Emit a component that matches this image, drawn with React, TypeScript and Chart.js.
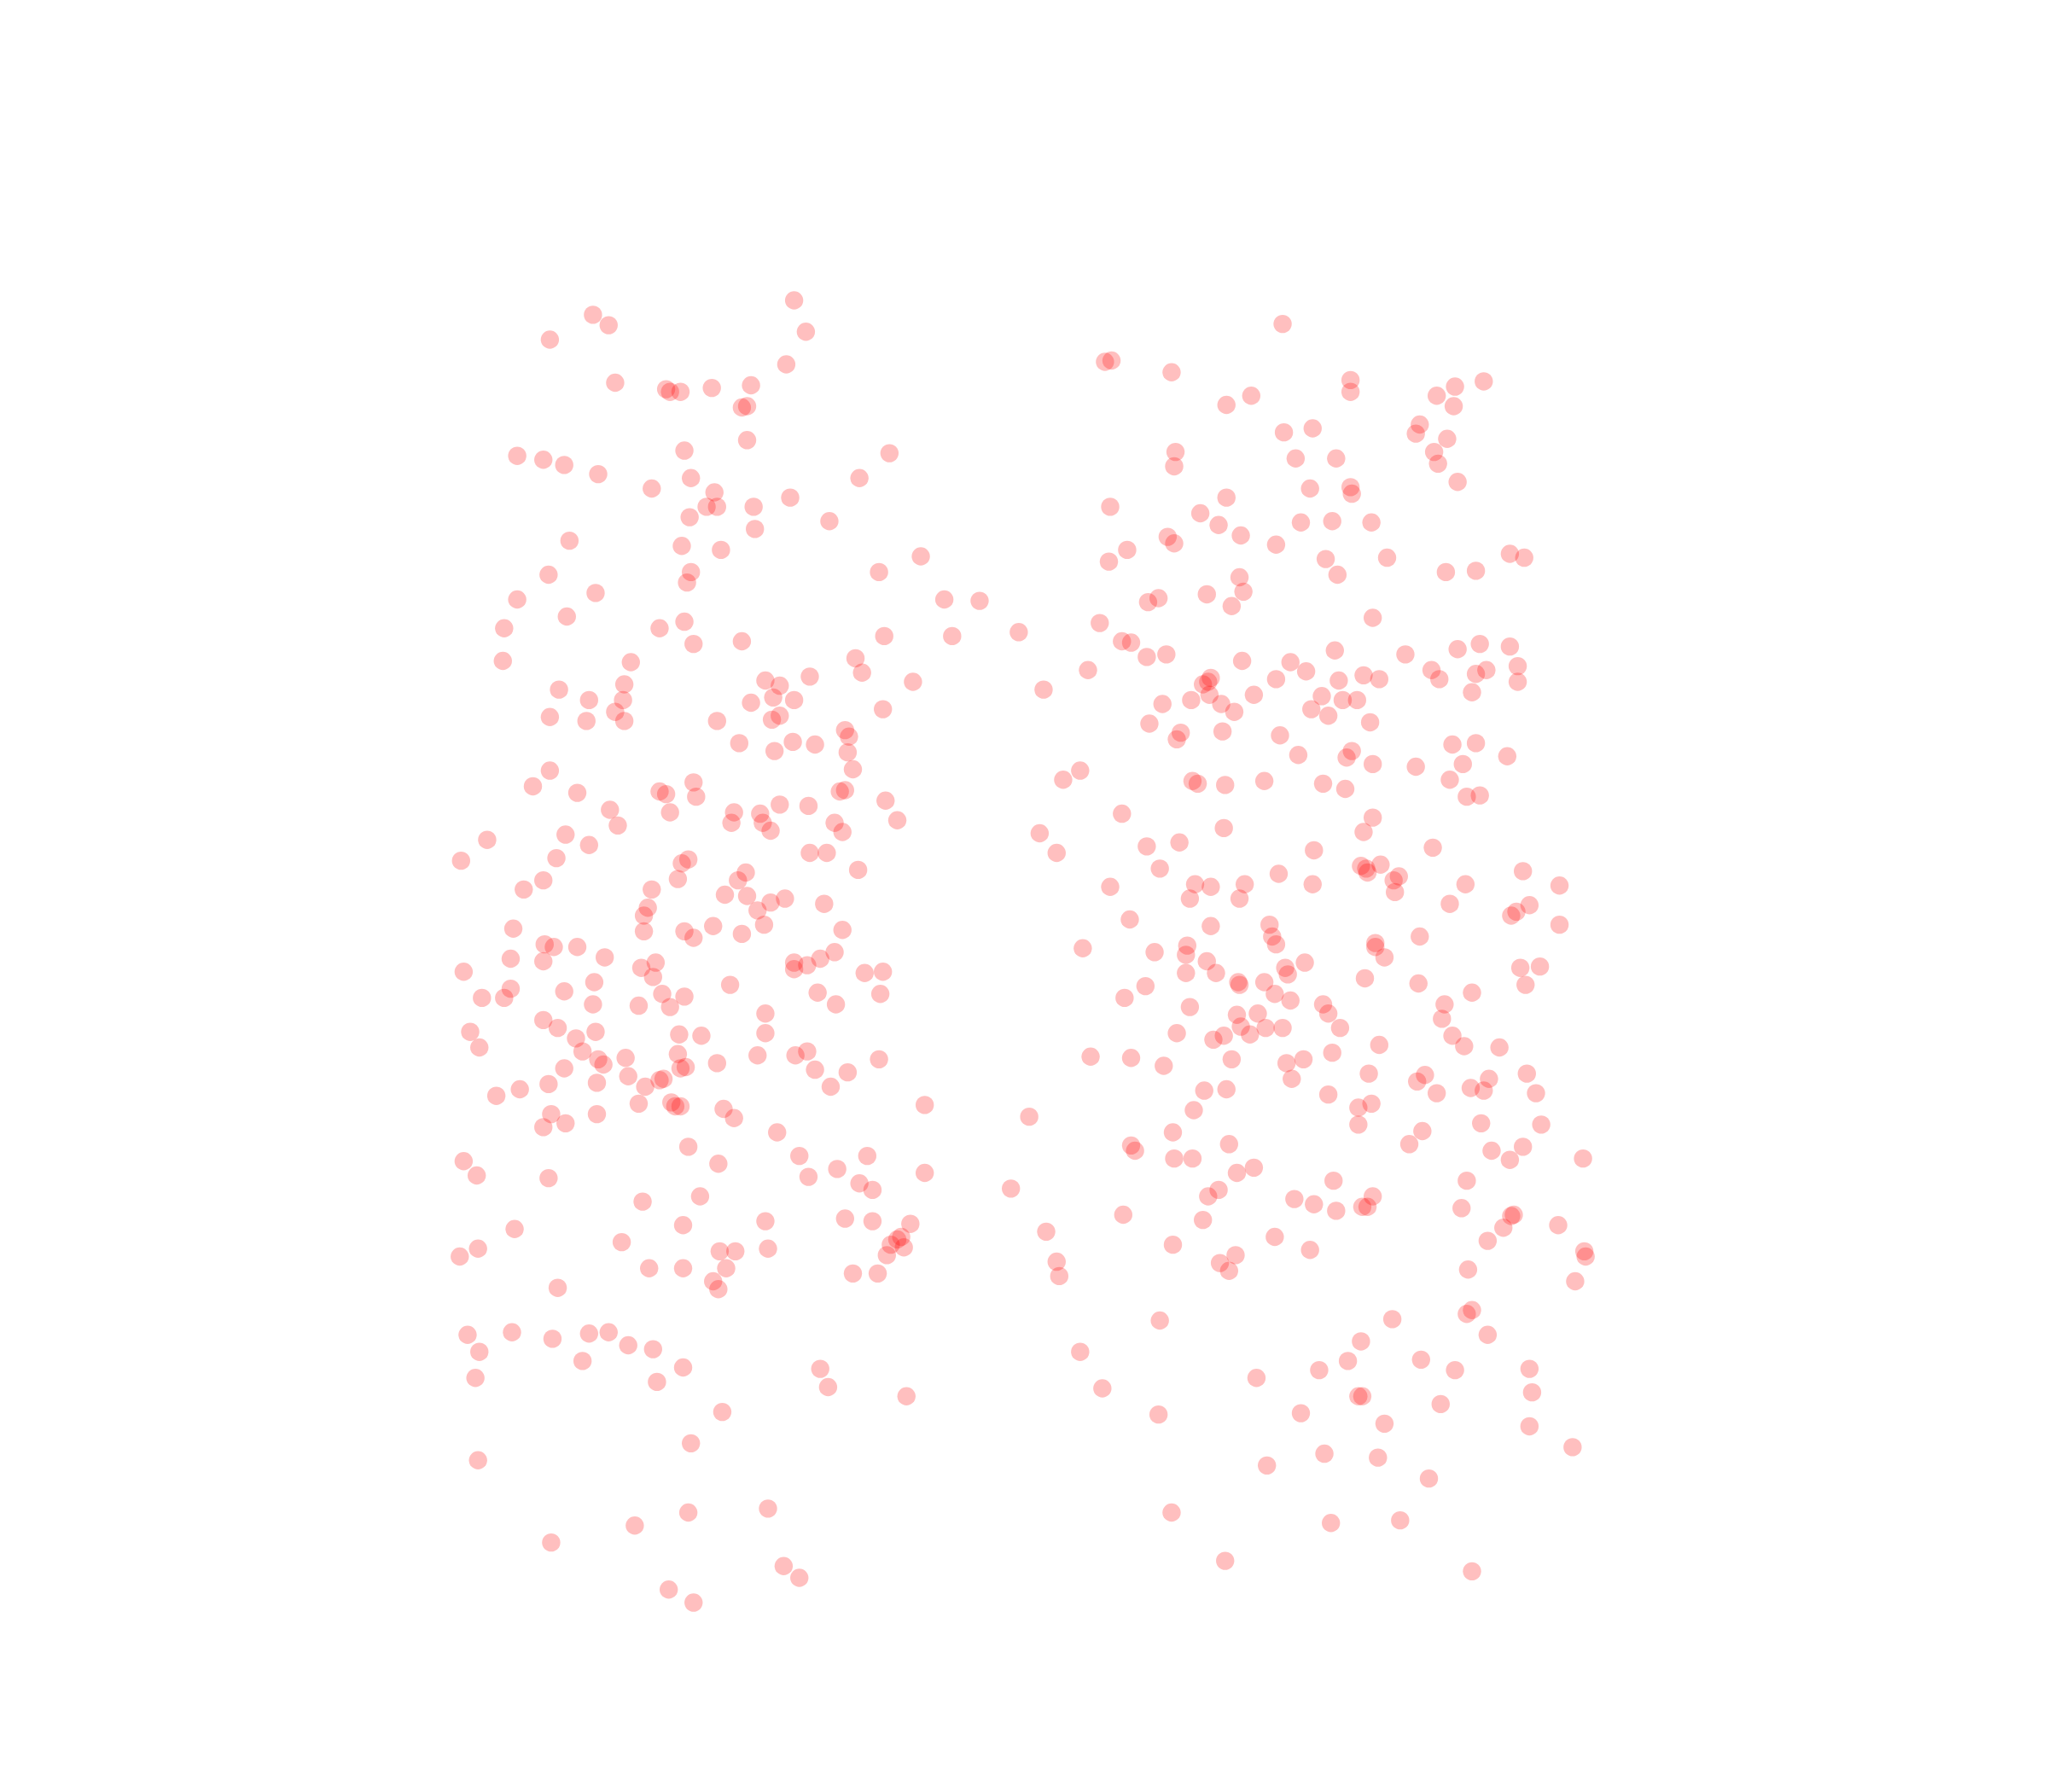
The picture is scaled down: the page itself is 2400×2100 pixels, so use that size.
import React, { useEffect, useRef } from "react";
import { Chart, registerables } from "chart.js";

Chart.register(...registerables);

const leftGroup: number[][] = [
[608,230],[454,241],[466,249],[421,260],[617,254],[602,279],[471,293],[510,298],[513,300],[521,300],[545,297],[575,295],[568,312],[572,311],[572,337],[524,345],[396,349],[416,352],[432,356],[458,363],[529,366],[499,374],[547,377],[541,388],[549,388],[577,388],[605,381],[658,366],[681,347],[528,396],[578,405],[635,399],[436,414],[522,418],[552,421],[529,438],[526,446],[420,440],[456,454],[396,459],[434,472],[386,481],[385,506],[505,481],[524,476],[531,493],[568,491],[673,438],[705,426],[723,459],[750,460],[729,487],[677,487],[780,484],[483,507],[655,504],[660,515],[699,522],[620,518],[586,521],[597,525],[592,534],[608,536],[575,538],[478,524],[428,528],[451,536],[477,536],[471,545],[421,549],[449,552],[478,552],[549,552],[591,551],[597,548],[676,543],[647,559],[650,564],[566,569],[607,568],[624,570],[593,575],[649,576],[653,589],[421,590],[408,602],[442,607],[505,606],[510,608],[531,599],[533,610],[643,606],[647,605],[678,613],[597,616],[619,617],[513,622],[562,622],[582,623],[467,620],[473,632],[560,630],[584,630],[590,636],[639,630],[645,637],[687,628],[433,639],[373,643],[451,647],[620,653],[633,653],[426,657],[353,659],[522,661],[527,658],[571,668],[565,674],[519,673],[657,666],[416,674],[401,681],[499,681],[555,685],[572,686],[601,688],[590,691],[580,697],[631,692],[496,695],[493,701],[493,713],[585,708],[546,709],[393,711],[524,713],[531,718],[568,715],[645,712],[417,723],[424,725],[442,725],[463,733],[391,734],[416,736],[491,741],[502,737],[500,748],[639,729],[628,734],[618,739],[608,737],[608,742],[662,745],[676,744],[355,744],[455,752],[391,757],[386,764],[369,764],[432,759],[559,754],[507,761],[524,763],[626,760],[640,769],[674,761],[454,769],[489,770],[513,771],[586,776],[416,781],[427,787],[360,790],[441,795],[456,790],[520,792],[537,793],[586,791],[367,802],[446,805],[479,810],[519,807],[458,811],[462,815],[432,818],[549,814],[580,808],[609,808],[618,805],[673,811],[521,818],[525,817],[481,824],[624,819],[649,821],[457,829],[420,830],[505,827],[508,826],[494,832],[636,832],[398,834],[380,839],[489,845],[514,844],[517,847],[521,847],[554,849],[562,856],[708,846],[422,853],[457,853],[416,863],[433,860],[595,867],[527,878],[612,885],[664,885],[355,889],[550,891],[641,895],[708,898],[365,900],[420,902],[619,901],[658,906],[668,911],[536,916],[492,920],[586,935],[523,938],[647,933],[668,935],[697,937],[394,941],[476,951],[690,947],[687,949],[682,953],[692,955],[679,961],[366,956],[352,962],[551,958],[563,958],[588,956],[556,971],[497,971],[523,971],[653,975],[672,975],[546,981],[550,987],[427,986],[358,1022],[392,1020],[423,1025],[451,1021],[466,1020],[481,1030],[500,1033],[367,1035],[446,1042],[523,1047],[628,1048],[364,1055],[503,1058],[634,1062],[694,1069],[553,1081],[529,1105],[366,1118],[527,1158],[588,1155],[486,1168],[422,1181],[600,1199],[612,1208],[512,1217],[531,1227],
];

const rightGroup: number[][] = [
[982,248],[851,276],[846,277],[897,285],[1034,291],[1034,300],[1136,292],[1114,296],[1100,303],[1113,311],[958,303],[939,310],[983,331],[1005,328],[1087,325],[1084,332],[1108,336],[1098,346],[1101,355],[1116,369],[900,346],[899,357],[992,351],[1023,351],[1003,374],[1034,373],[1035,378],[850,388],[939,381],[919,393],[933,402],[950,410],[996,400],[1020,399],[1050,400],[894,411],[899,416],[863,421],[849,430],[977,417],[1015,428],[1062,427],[1024,440],[949,442],[952,453],[924,455],[887,458],[879,461],[943,464],[1107,438],[1130,437],[1156,424],[1167,427],[1051,473],[842,477],[859,491],[866,492],[878,503],[893,501],[951,506],[988,507],[1022,498],[1076,501],[1116,497],[1133,493],[1156,495],[1162,510],[1138,513],[1130,516],[1096,513],[1102,520],[1162,522],[1127,530],[833,513],[799,528],[927,519],[925,522],[921,524],[926,532],[912,536],[890,539],[935,539],[945,545],[960,532],[977,520],[1000,514],[1025,521],[1044,517],[1056,520],[1012,533],[1028,536],[1039,536],[1004,543],[1017,548],[1049,553],[880,554],[904,561],[901,566],[936,560],[980,563],[1112,570],[1130,569],[1154,579],[1120,585],[1035,575],[1031,580],[994,578],[1051,585],[1084,587],[1110,597],[827,590],[814,597],[913,598],[917,600],[938,601],[968,598],[1013,600],[1030,604],[1123,610],[1133,609],[859,623],[1051,626],[796,638],[937,634],[1044,637],[878,648],[903,645],[809,653],[1006,651],[1097,649],[888,665],[1042,663],[1046,665],[1047,668],[1057,662],[979,669],[1071,671],[1067,674],[1166,667],[850,679],[915,677],[927,679],[953,677],[1005,677],[1068,683],[1122,677],[1194,678],[911,688],[949,688],[1110,692],[1171,693],[1161,698],[1157,701],[865,704],[927,709],[972,708],[1194,708],[974,717],[977,723],[1087,717],[1053,722],[1053,725],[1060,733],[829,726],[909,724],[908,731],[884,729],[924,736],[908,745],[931,745],[984,741],[999,737],[986,746],[1045,749],[1164,741],[1179,740],[877,755],[948,752],[949,754],[968,752],[1086,753],[1168,754],[861,764],[976,761],[988,766],[1127,760],[911,771],[1013,769],[1017,776],[1106,769],[1104,780],[947,777],[963,776],[950,786],[969,787],[982,787],[1026,787],[901,791],[937,793],[929,796],[957,792],[1112,793],[1121,801],[1148,802],[1056,800],[835,809],[866,810],[943,811],[1020,806],[985,814],[998,811],[891,816],[1048,822],[989,826],[1085,828],[1091,823],[1169,822],[1140,826],[1126,833],[1136,835],[1100,837],[1176,837],[922,835],[939,834],[1017,838],[1040,848],[1050,845],[914,850],[788,855],[1040,861],[1134,860],[1180,861],[898,867],[1089,866],[1079,876],[866,877],[869,881],[941,876],[1166,878],[1142,881],[899,887],[913,887],[960,894],[947,898],[1156,888],[1212,887],[1021,904],[1123,904],[933,911],[925,916],[774,910],[991,918],[1006,922],[1023,927],[1051,916],[1043,924],[1047,924],[1119,925],[860,930],[921,934],[1157,931],[1159,930],[1151,940],[1193,938],[801,943],[976,947],[1139,950],[898,953],[1003,957],[946,961],[934,967],[941,973],[1213,958],[1214,962],[809,966],[811,977],[1124,972],[1206,981],[888,1011],[1066,1010],[1123,1006],[1127,1003],[1139,1022],[1042,1027],[827,1035],[1088,1041],[1032,1042],[1010,1049],[1114,1049],[1171,1048],[962,1055],[844,1063],[1173,1066],[1040,1069],[1043,1069],[1103,1075],[996,1082],[887,1083],[1060,1090],[1171,1092],[1204,1108],[1014,1113],[1055,1116],[970,1122],[1094,1132],[897,1158],[1072,1164],[1019,1166],[938,1195],[1127,1203],
];

const toPoints = (rows: number[][]) => rows.map(([x, y]) => ({ x, y }));

export default function App() {
  const ref = useRef<HTMLCanvasElement>(null);
  useEffect(() => {
    document.body.style.margin = "0";
    const chart = new Chart(ref.current!, {
      type: "scatter",
      data: {
        datasets: [
          {
            data: toPoints([...leftGroup, ...rightGroup]),
            backgroundColor: "rgba(255,0,0,0.25)",
            borderWidth: 0,
            pointRadius: 10.7,
            pointHoverRadius: 10.7,
          },
        ],
      },
      options: {
        responsive: false,
        animation: false,
        devicePixelRatio: 1,
        layout: { padding: 0, autoPadding: false },
        plugins: { legend: { display: false }, tooltip: { enabled: false }, title: { display: false } },
        scales: {
          x: { type: "linear", display: false, min: 0, max: 1568 },
          y: { type: "linear", display: false, min: 0, max: 1372, reverse: true },
        },
      },
    });
    return () => chart.destroy();
  }, []);
  return (
    <div style={{ width: 2400, height: 2100, background: "#fff" }}>
      <canvas ref={ref} width={2400} height={2100} style={{ display: "block" }} />
    </div>
  );
}
